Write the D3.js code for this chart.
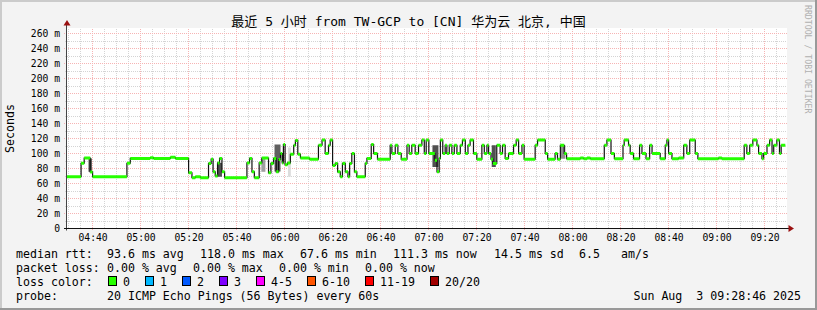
<!DOCTYPE html>
<html lang="en">
<head>
	<meta charset="utf-8">
	<title>smokeping TW-GCP to CN</title>
	<script src="https://d3js.org/d3.v7.min.js"></script>
	<style type="text/css">
		body { margin: 0; background: #f3f3f3; }
		svg text { font-family: "DejaVu Sans Mono", "Noto Sans CJK SC", monospace; fill: #000; }
		.grid line { shape-rendering: crispEdges; }
		.Axis path { display: none; }
		.Axis line { stroke: #333; shape-rendering: crispEdges; }
	</style>
</head>
<body>
	<svg id="chart"></svg>

	<script type="text/javascript">
		//============================================================
		//                          data
		//============================================================

		var title = "最近 5 小时 from TW-GCP to [CN] 华为云 北京, 中国"

		var yTicks = [0, 20, 40, 60, 80, 100, 120, 140, 160, 180, 200, 220, 240, 260]
		var xTickLabels = ["04:40", "05:00", "05:20", "05:40", "06:00", "06:20", "06:40",
			"07:00", "07:20", "07:40", "08:00", "08:20", "08:40", "09:00", "09:20"]

		// median rtt steps: start minute (after 04:40) and value in ms
		var stepMin = [-10.7, -4.8, -3.5, -1.0, 0, 14.3, 15.7, 24, 25.4, 32.4, 34.5,
			40, 41.4, 42.8, 44.9, 48.3, 49.4, 50.2, 51.1, 52.1, 52.9, 53.9, 55,
			64.3, 65.4, 66.4, 67.4, 69.4, 70.5, 73.3, 74.3, 75.4, 76.5, 77.5, 78.3, 79, 79.5,
			80.2, 81.2, 82.4, 83.8, 84.5, 85.5, 86.6,
			90.4, 94.1, 95.6, 96.9, 98.3, 99, 100, 101.1, 102.1, 103.2, 104.1, 105.3, 106.4,
			107.1, 108, 109.1, 110.1, 113.6, 114.3, 116.1, 117.1, 118.7,
			124, 124.7, 126.1, 127.2, 128.6, 131, 131.9, 133, 134.4, 135.8, 137.2, 138.2, 139,
			140.1, 142.6, 143.5, 144.4, 144.9, 145.9, 146.9, 147.6, 148.6, 149.7, 150.7, 151.8,
			153.2, 154.1, 155.3, 156.4, 157.3, 158.7, 160.1, 162.2, 163.2, 164.3, 165, 166,
			166.8, 168.4, 169.8, 170.8, 171.9, 173.3, 175.4, 176.5, 177.5, 178.9, 179.8,
			184.4, 185.4, 188.6, 189.6, 192.7, 193.7,
			194.9, 196.5, 197.5, 203.2, 204.6, 206, 207.4, 213.2, 214.3, 216, 217.4,
			221, 221.5, 223.3, 224, 225.4, 227.9, 228.9, 230.6, 232.1, 233.1, 236.5,
			238.6, 239.3, 240, 241.4, 244.2, 246.3, 247.6, 248.8, 251.1, 252.2, 260.8, 262.2,
			271.5, 272.6, 273.8, 275.1, 276.8, 277.5, 278.9, 279.6, 281, 282.1, 283.1, 283.8,
			285.1, 286.2, 286.9]
		var stepRtt = [69, 87, 94, 75.5, 69, 87, 93.5, 94.5, 93.5, 95, 93.5,
			74.3, 67.7, 69, 67.7, 86.8, 92.5, 75.6, 70, 87.5, 93.5, 75.6, 67.7,
			87.5, 93.5, 75.6, 67.7, 87.5, 94, 74.3, 86.8, 93.5, 75.6, 92, 100, 87.5, 112,
			85, 87.5, 99, 111, 117.5, 99, 94,
			92.5, 111, 118, 100, 111, 118, 84, 86.8, 75.6, 69, 86.8, 75.6, 69,
			86.8, 100, 75.6, 69, 86.8, 93.5, 112, 100, 92.5,
			111, 100, 111, 100, 92.5, 111, 100, 111, 100, 111, 118, 100, 118,
			100, 91, 75.6, 93.5, 118, 100, 111, 100, 111, 100, 111, 100,
			111, 118, 100, 111, 118, 100, 92.5, 111, 100, 111, 100, 92.5,
			86.8, 111, 100, 111, 93.5, 100, 111, 118, 100, 111, 92.5,
			111, 118, 100, 92.5, 100, 92.5,
			111, 100, 93, 94, 93, 94, 93, 111, 118, 100, 93,
			111, 118, 111, 100, 93, 111, 100, 93, 111, 100, 93,
			111, 118, 100, 93, 94, 111, 100, 118, 100, 93, 94, 93,
			111, 100, 111, 118, 111, 100, 93, 100, 111, 118, 100, 111,
			118, 100, 111]
		var lastMin = 288.6

		// smoke (spread of the single pings): from / to minute, low / high ms, shade
		var smokeFrom = [-1.7, 51.8, 70.3, 75.8, 81.4, 141.6, 166.3, 194.9]
		var smokeTo = [-0.3, 53.9, 72.0, 78.3, 82.6, 144.1, 168.0, 197.0]
		var smokeLo = [75.6, 69, 75.6, 76, 69, 82, 82, 93]
		var smokeHi = [93.5, 87.5, 93.5, 112, 108, 111, 111, 111]
		var smokeShade = ["#505050", "#505050", "#a0a0a0", "#606060", "#dcdcdc", "#505050", "#505050", "#909090"]

		// legend
		var rttStats = ["93.6 ms avg", "118.0 ms max", "67.6 ms min", "111.3 ms now", "14.5 ms sd", "6.5", "am/s"]
		var lossStats = ["0.00 % avg", "0.00 % max", "0.00 % min", "0.00 % now"]
		var lossLabels = ["0", "1", "2", "3", "4-5", "6-10", "11-19", "20/20"]
		var lossColors = ["#26ff00", "#00b8ff", "#0059ff", "#7e00ff", "#ff00ff", "#ff5500", "#ff0000", "#a10000"]
		var probeText = "20 ICMP Echo Pings (56 Bytes) every 60s"
		var dateText = "Sun Aug  3 09:28:46 2025"

		//============================================================
		//                          init
		//============================================================

		var wholeW = 817, wholeH = 310
		var pLeft = 67, pRight = 787, pTop = 28.5, pBottom = 228.5

		var t0 = new Date(2025, 7, 3, 4, 40, 0)
		var atMin = m => new Date(t0.getTime() + m * 60000)
		var parseHM = d3.timeParse("%Y-%m-%d %H:%M")

		var xScale = d3.scaleTime()
			.domain([atMin(-10 - 2 / 3), atMin(289 + 1 / 3)])
			.range([pLeft, pRight])
		var yScale = d3.scaleLinear()
			.domain([0, 800 / 3])
			.range([pBottom, pTop])

		var svg = d3.select("#chart")
			.attr("width", wholeW)
			.attr("height", wholeH)
			.style("display", "block")

		// frame
		svg.append("rect").attr("width", wholeW).attr("height", wholeH).attr("fill", "#f3f3f3")
		svg.append("rect").attr("width", wholeW).attr("height", 2).attr("fill", "#cbcbcb")
		svg.append("rect").attr("width", 2).attr("height", wholeH).attr("fill", "#cbcbcb")
		svg.append("rect").attr("x", wholeW - 2).attr("width", 2).attr("height", wholeH).attr("fill", "#999")
		svg.append("rect").attr("y", wholeH - 2).attr("width", wholeW).attr("height", 2).attr("fill", "#999")

		// canvas
		svg.append("rect")
			.attr("x", pLeft).attr("y", pTop - 0.5)
			.attr("width", pRight - pLeft).attr("height", pBottom - pTop + 0.5)
			.attr("fill", "#fff")

		//============================================================
		//                          grid
		//============================================================

		var grid = svg.append("g").attr("class", "grid")
		var minorX = xScale.ticks(d3.timeMinute.every(5))
		var majorX = xScale.ticks(d3.timeMinute.every(20))
		var minorCol = "#d4d4d4", majorCol = "#f6b4b4"

		grid.selectAll(".vminor").data(minorX).join("line")
			.attr("x1", d => xScale(d)).attr("x2", d => xScale(d))
			.attr("y1", pTop).attr("y2", pBottom)
			.attr("stroke", minorCol).attr("stroke-dasharray", "1,1")

		var yMinor = d3.range(10, 270, 20)
		grid.selectAll(".hminor").data(yMinor).join("line")
			.attr("x1", pLeft - 2).attr("x2", pRight)
			.attr("y1", d => yScale(d)).attr("y2", d => yScale(d))
			.attr("stroke", minorCol).attr("stroke-dasharray", "1,1")

		grid.selectAll(".vmajor").data(majorX).join("line")
			.attr("x1", d => xScale(d)).attr("x2", d => xScale(d))
			.attr("y1", pTop).attr("y2", pBottom + 2)
			.attr("stroke", majorCol).attr("stroke-dasharray", "1,1")

		grid.selectAll(".hmajor").data(yTicks.filter(d => d > 0)).join("line")
			.attr("x1", pLeft - 3).attr("x2", pRight)
			.attr("y1", d => yScale(d)).attr("y2", d => yScale(d))
			.attr("stroke", majorCol).attr("stroke-dasharray", "1,1")

		//============================================================
		//                     smoke & median
		//============================================================

		svg.append("clipPath").attr("id", "plot")
			.append("rect").attr("x", pLeft).attr("y", pTop)
			.attr("width", pRight - pLeft).attr("height", pBottom - pTop)

		var plot = svg.append("g").attr("clip-path", "url(#plot)")

		plot.selectAll(".smoke").data(smokeFrom).join("rect")
			.attr("x", (d, i) => xScale(atMin(d)))
			.attr("width", (d, i) => xScale(atMin(smokeTo[i])) - xScale(atMin(d)))
			.attr("y", (d, i) => yScale(smokeHi[i]))
			.attr("height", (d, i) => yScale(smokeLo[i]) - yScale(smokeHi[i]))
			.attr("fill", (d, i) => smokeShade[i])

		var steps = stepMin.map((m, i) => ({ date: atMin(m), rtt: stepRtt[i] }))
		steps.push({ date: atMin(lastMin), rtt: stepRtt[stepRtt.length - 1] })

		var medianLine = d3.line()
			.curve(d3.curveStepAfter)
			.x(d => xScale(d.date))
			.y(d => yScale(d.rtt))

		plot.append("path")
			.attr("d", medianLine(steps))
			.attr("fill", "none")
			.attr("stroke", "#111")
			.attr("stroke-width", 1.2)

		// loss-coloured median pieces (loss 0 everywhere)
		plot.selectAll(".med").data(steps.slice(0, -1)).join("line")
			.attr("x1", d => xScale(d.date))
			.attr("x2", (d, i) => xScale(steps[i + 1].date))
			.attr("y1", d => yScale(d.rtt))
			.attr("y2", d => yScale(d.rtt))
			.attr("stroke", lossColors[0])
			.attr("stroke-width", 3)

		//============================================================
		//                          axes
		//============================================================

		var yAxis = d3.axisLeft(yScale)
			.tickValues(yTicks)
			.tickSize(0)
			.tickPadding(7)
			.tickFormat(d => d === 0 ? "0" : d + " m")

		svg.append("g")
			.attr("class", "y Axis")
			.attr("transform", "translate(" + pLeft + ",0)")
			.call(yAxis)
			.call(g => g.selectAll("text")
				.attr("font-family", "DejaVu Sans Mono")
				.style("font-size", "9.7px"))

		var xTickDates = xTickLabels.map(s => parseHM("2025-08-03 " + s))
		var xAxis = d3.axisBottom(xScale)
			.tickValues(xTickDates)
			.tickSize(0)
			.tickPadding(6)
			.tickFormat(d3.timeFormat("%H:%M"))

		svg.append("g")
			.attr("class", "x Axis")
			.attr("transform", "translate(0," + pBottom + ")")
			.call(xAxis)
			.call(g => g.selectAll("text")
				.attr("font-family", "DejaVu Sans Mono")
				.style("font-size", "9.7px"))

		// axis lines and arrows
		svg.append("line")
			.attr("x1", pLeft - 0.5).attr("x2", pLeft - 0.5)
			.attr("y1", pBottom + 2).attr("y2", 23)
			.attr("stroke", "#444")
		svg.append("line")
			.attr("x1", pLeft - 3).attr("x2", 790)
			.attr("y1", pBottom).attr("y2", pBottom)
			.attr("stroke", "#111")
		svg.append("path")
			.attr("d", "M63.5,25.5 L70.5,25.5 L67,20 Z")
			.attr("fill", "#9a1010")
		svg.append("path")
			.attr("d", "M788.5,225 L788.5,232 L794,228.5 Z")
			.attr("fill", "#9a1010")

		//============================================================
		//                          texts
		//============================================================

		svg.append("text")
			.attr("x", wholeW / 2).attr("y", 26)
			.attr("text-anchor", "middle")
			.style("font-size", "13px")
			.text(title)

		svg.append("text")
			.attr("transform", "translate(14," + (pTop + pBottom) / 2 + ") rotate(-90)")
			.attr("text-anchor", "middle")
			.style("font-size", "11.6px")
			.text("Seconds")

		svg.append("text")
			.attr("transform", "translate(805,5) rotate(90)")
			.style("font-size", "8.2px")
			.style("fill", "#b0b0b0")
			.text("RRDTOOL / TOBI OETIKER")

		var legend = svg.append("g").style("font-size", "11.6px")
		var rowY = [258, 272, 286, 300]

		legend.append("text").attr("x", 16).attr("y", rowY[0]).text("median rtt:")
		var rttX = [107, 200, 300, 393, 494, 579, 621]
		legend.selectAll(".rtt").data(rttStats).join("text")
			.attr("x", (d, i) => rttX[i]).attr("y", rowY[0]).text(d => d)

		legend.append("text").attr("x", 16).attr("y", rowY[1]).text("packet loss:")
		var lossX = [107, 193, 279, 365]
		legend.selectAll(".loss").data(lossStats).join("text")
			.attr("x", (d, i) => lossX[i]).attr("y", rowY[1]).text(d => d)

		legend.append("text").attr("x", 16).attr("y", rowY[2]).text("loss color:")
		var boxX = []
		lossLabels.reduce((x, s) => { boxX.push(x); return x + 30 + s.length * 7 }, 108)
		legend.selectAll(".lbox").data(lossLabels).join("rect")
			.attr("x", (d, i) => boxX[i] + 0.5).attr("y", 276.5)
			.attr("width", 8).attr("height", 9)
			.attr("fill", (d, i) => lossColors[i])
			.attr("stroke", "#000")
		legend.selectAll(".ltxt").data(lossLabels).join("text")
			.attr("x", (d, i) => boxX[i] + 15).attr("y", rowY[2]).text(d => d)

		legend.append("text").attr("x", 16).attr("y", rowY[3]).text("probe:")
		legend.append("text").attr("x", 107).attr("y", rowY[3]).text(probeText)
		legend.append("text").attr("x", 801).attr("y", rowY[3])
			.attr("text-anchor", "end")
			.style("white-space", "pre")
			.text(dateText)
	</script>
</body>
</html>
